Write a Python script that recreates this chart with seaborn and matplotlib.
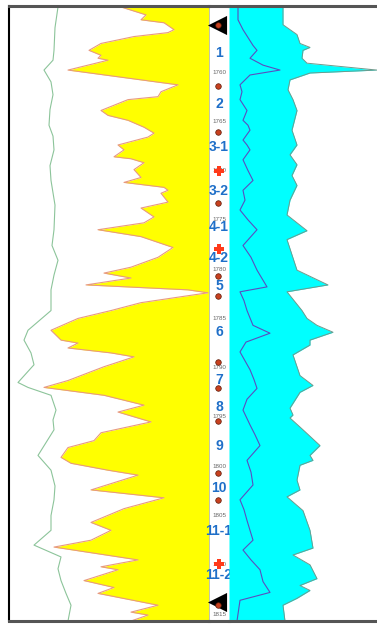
import numpy as np
import pandas as pd
import seaborn as sns
import matplotlib.pyplot as plt

# ---- data ----
# yellow-filled curve (track 1)
gr_depth = [1753.4, 1754.2, 1754.7, 1755.0, 1755.7, 1756.0, 1756.4, 1757.1, 1757.8, 1758.3,
            1758.6, 1758.8, 1759.8, 1761.3, 1762.0, 1762.5, 1762.8, 1763.9, 1764.4, 1764.9,
            1765.6, 1766.2, 1766.6, 1767.4, 1767.9, 1768.6, 1768.8, 1769.2, 1769.9, 1770.7,
            1771.2, 1771.7, 1772.0, 1772.3, 1773.2, 1773.8, 1774.7, 1775.3, 1776.0, 1776.7,
            1777.8, 1778.8, 1779.8, 1780.4, 1780.9, 1781.6, 1782.1, 1782.4, 1782.8, 1783.4,
            1784.2, 1785.0, 1786.2, 1787.2, 1787.5, 1788.0, 1788.5, 1788.9, 1789.9, 1791.3,
            1792.0, 1792.8, 1793.8, 1794.5, 1795.5, 1796.6, 1797.4, 1798.1, 1799.1, 1799.7,
            1800.4, 1800.9, 1802.4, 1803.2, 1804.3, 1805.7, 1806.5, 1807.5, 1808.2, 1809.5,
            1810.2, 1810.5, 1811.6, 1812.3, 1812.9, 1814.1, 1814.8, 1815.1, 1815.7]
gr_value = [112, 137, 132, 155, 165, 159, 125, 92, 80, 92,
            89, 99, 59, 169, 152, 149, 119, 92, 99, 119,
            135, 145, 139, 109, 115, 105, 122, 135, 125, 132,
            115, 155, 159, 152, 159, 132, 145, 135, 89, 132,
            164, 149, 122, 95, 122, 77, 179, 199, 172, 132,
            102, 69, 42, 52, 69, 59, 102, 125, 95, 59,
            35, 95, 135, 109, 142, 92, 85, 59, 52, 62,
            99, 129, 82, 155, 115, 82, 102, 82, 45, 129,
            92, 109, 75, 105, 89, 149, 122, 139, 122]

# thin green curve (track 1)
sp_depth = [1753.4, 1755.5, 1757.8, 1758.8, 1759.8, 1761.0, 1762.3, 1763.8, 1765.4, 1766.5,
            1767.9, 1769.5, 1771.0, 1773.5, 1776.0, 1777.6, 1779.1, 1780.6, 1782.1, 1784.2,
            1786.2, 1787.2, 1788.5, 1789.7, 1791.5, 1792.0, 1792.8, 1794.3, 1795.3, 1796.3,
            1798.9, 1800.4, 1802.0, 1803.4, 1805.0, 1806.5, 1808.0, 1809.2, 1810.4, 1811.6,
            1812.9, 1814.1, 1815.7]
sp_value = [49, 46, 45, 44, 35, 42, 44, 41, 40, 44,
            45, 41, 42, 46, 45, 43, 49, 45, 42, 42,
            19, 15, 22, 25, 9, 19, 42, 47, 44, 45,
            29, 42, 46, 45, 42, 42, 25, 52, 49, 52,
            57, 62, 59]

# cyan-filled curve (track 3)
rt_depth = [1753.4, 1755.2, 1756.2, 1757.1, 1757.5, 1757.8, 1758.6, 1759.1, 1759.8, 1760.1,
            1760.8, 1761.8, 1762.8, 1763.9, 1765.9, 1767.4, 1768.4, 1769.4, 1770.5, 1771.5,
            1773.0, 1774.5, 1776.1, 1777.0, 1780.1, 1781.6, 1782.3, 1784.2, 1785.0, 1785.7,
            1786.4, 1787.2, 1787.7, 1788.7, 1790.8, 1791.8, 1792.5, 1794.1, 1794.8, 1795.1,
            1796.3, 1797.9, 1798.9, 1799.4, 1799.9, 1801.4, 1802.4, 1803.1, 1804.5, 1806.5,
            1808.3, 1809.0, 1810.0, 1811.4, 1812.1, 1812.6, 1813.4, 1814.1, 1815.7]
rt_value = [54, 54, 68, 71, 81, 74, 73, 78, 148, 81,
            61, 59, 64, 68, 63, 68, 61, 68, 63, 68,
            61, 58, 78, 58, 68, 99, 58, 73, 78, 88,
            104, 81, 81, 64, 71, 84, 71, 61, 64, 61,
            74, 91, 81, 84, 71, 68, 71, 58, 74, 81,
            84, 64, 81, 88, 71, 81, 68, 54, 56]

# purple curve (track 3)
ac_depth = [1753.4, 1754.7, 1755.7, 1756.5, 1757.3, 1757.8, 1758.6, 1759.3, 1759.8, 1760.3,
            1761.3, 1762.0, 1762.8, 1763.9, 1764.9, 1765.4, 1765.9, 1766.9, 1767.4, 1767.9,
            1768.9, 1770.0, 1771.0, 1772.0, 1773.0, 1774.0, 1775.0, 1776.0, 1777.6, 1778.8,
            1780.1, 1781.8, 1782.3, 1783.2, 1784.2, 1785.7, 1786.5, 1787.4, 1788.4, 1789.3,
            1790.2, 1791.2, 1792.1, 1793.2, 1794.3, 1795.8, 1796.8, 1797.9, 1799.4, 1800.6,
            1801.9, 1803.4, 1804.4, 1805.5, 1807.5, 1808.5, 1809.5, 1810.5, 1811.7, 1812.8,
            1813.6, 1815.7]
ac_value = [9, 9, 14, 19, 24, 28, 21, 34, 51, 21,
            11, 13, 11, 18, 14, 19, 21, 14, 18, 21,
            14, 19, 24, 14, 16, 11, 19, 28, 14, 22,
            28, 38, 11, 15, 18, 24, 41, 17, 11, 16,
            21, 25, 28, 18, 14, 21, 26, 31, 18, 22,
            24, 11, 15, 18, 24, 14, 22, 31, 34, 41,
            11, 8]

# depth track annotations
depth_ticks = [1760, 1765, 1770, 1775, 1780, 1785, 1790, 1795, 1800, 1805, 1810, 1815]
layer_names = ['1', '2', '3-1', '3-2', '4-1', '4-2', '5', '6', '7', '8', '9', '10', '11-1', '11-2']
layer_depth = [1758.1, 1763.2, 1767.6, 1772.1, 1775.7, 1778.9, 1781.7, 1786.4, 1791.2, 1794.0,
               1797.9, 1802.2, 1806.6, 1811.0]
dot_depth = [1755.2, 1761.4, 1766.1, 1773.3, 1780.7, 1782.7, 1789.4, 1792.1, 1795.4, 1800.7,
             1803.4, 1814.1]
plus_depth = [1770.0, 1778.0, 1809.9]
triangle_depth = [1755.2, 1813.8]

top, bottom = 1753.3, 1815.7

sns.set_style('white')
plt.rcParams['font.family'] = ['Liberation Sans', 'DejaVu Sans']

fig = plt.figure(figsize=(3.77, 6.24), dpi=100)
W, H = 377.0, 624.0
y0, h = 1 - 621 / H, (621 - 6) / H
ax1 = fig.add_axes([9 / W, y0, 200 / W, h])
ax2 = fig.add_axes([209 / W, y0, 20 / W, h])
ax3 = fig.add_axes([229 / W, y0, 148 / W, h])

for ax in (ax1, ax2, ax3):
    ax.set_ylim(bottom, top)
    ax.set_xticks([])
    ax.set_yticks([])
    ax.set_xlabel('')
    ax.set_ylabel('')
    for side in ('top', 'bottom'):
        ax.spines[side].set_color('#555555')
        ax.spines[side].set_linewidth(2.2)
    ax.spines['left'].set_visible(False)
    ax.spines['right'].set_visible(False)
    ax.patch.set_alpha(0)

# track 1: green curve + yellow fill to the right edge
ax1.set_xlim(0, 200)
ax1.fill_betweenx(gr_depth, gr_value, 200, color='#FFFF00', lw=0)
sns.lineplot(x=gr_value, y=gr_depth, orient='y', sort=False, estimator=None,
             color='#E89A80', lw=0.8, ax=ax1)
sns.lineplot(x=sp_value, y=sp_depth, orient='y', sort=False, estimator=None,
             color='#8CC49A', lw=0.8, ax=ax1)
ax1.spines['left'].set_visible(True)
ax1.spines['left'].set_color('black')
ax1.spines['left'].set_linewidth(1.5)
ax1.spines['right'].set_visible(True)
ax1.spines['right'].set_color('#b8b8b8')
ax1.spines['right'].set_linewidth(0.6)

# track 3: cyan fill from left edge + purple curve
ax3.set_xlim(0, 148)
ax3.fill_betweenx(rt_depth, 0, rt_value, color='#00FFFF', lw=0)
sns.lineplot(x=rt_value, y=rt_depth, orient='y', sort=False, estimator=None,
             color='#6E9A8C', lw=0.7, ax=ax3)
sns.lineplot(x=ac_value, y=ac_depth, orient='y', sort=False, estimator=None,
             color='#5A4EC0', lw=0.8, ax=ax3)

# depth track
ax2.set_xlim(0, 1)
for d in depth_ticks:
    ax2.text(0.5, d, str(d), ha='center', va='center', fontsize=4.5,
             color='#666666', zorder=1)
for name, d in zip(layer_names, layer_depth):
    ax2.text(0.5, d, name, ha='center', va='center', fontsize=10,
             fontweight='bold', color='#1F6FC8', zorder=3, clip_on=False)

marks = pd.DataFrame({'x': [0.42] * len(triangle_depth), 'y': triangle_depth})
sns.scatterplot(data=marks, x='x', y='y', marker='<', s=190, color='black',
                edgecolor='black', linewidth=0, ax=ax2, zorder=4, clip_on=False)
dots = pd.DataFrame({'x': [0.45] * len(dot_depth), 'y': dot_depth})
sns.scatterplot(data=dots, x='x', y='y', marker='o', s=16, color='#C8401E',
                edgecolor='#5a1a08', linewidth=0.5, ax=ax2, zorder=5)
plus = pd.DataFrame({'x': [0.52] * len(plus_depth), 'y': plus_depth})
sns.scatterplot(data=plus, x='x', y='y', marker='P', s=60, color='#FF3A1A',
                edgecolor='#FF3A1A', linewidth=0, ax=ax2, zorder=6)
ax2.set_xlabel('')
ax2.set_ylabel('')

fig.savefig('out.png', dpi=100)
